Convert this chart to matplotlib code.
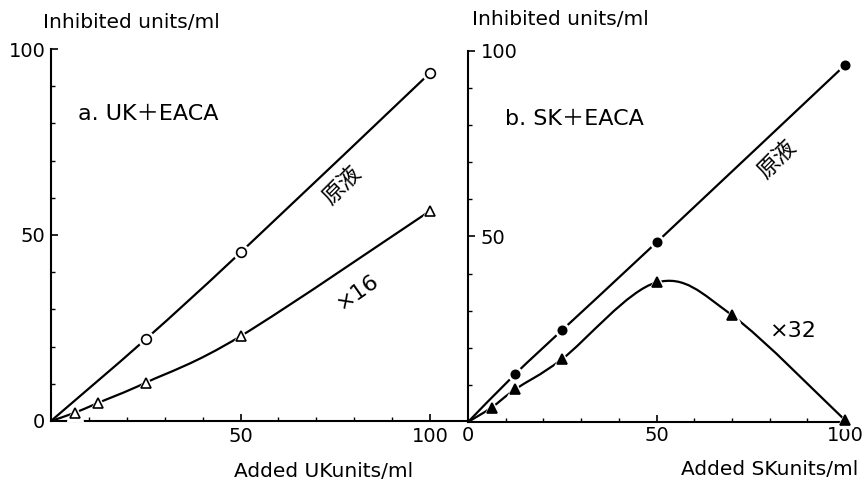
import numpy as np
import matplotlib.pyplot as plt
from matplotlib.path import Path
from matplotlib.patches import PathPatch
from matplotlib.ticker import FixedLocator

plt.rcParams['font.family'] = ['DejaVu Sans', 'Noto Sans CJK JP']

# panel a: UK + EACA (curves start at the origin)
uk_x = [0, 25, 50, 100]
uk_raw = [0, 22, 45.3, 93.6]          # 原液, open circles
uk16_x = [0, 6.25, 12.5, 25, 50, 100]
uk16 = [0, 2.2, 4.9, 10.3, 22.8, 56.5]  # x16, open triangles

# panel b: SK + EACA
sk_x = [0, 12.5, 25, 50, 100]
sk_raw = [0, 12.9, 24.8, 48.4, 96.2]     # 原液, filled circles
sk32_x = [0, 6.25, 12.5, 25, 50, 70, 100]
sk32 = [0, 3.9, 8.8, 17.0, 37.6, 28.8, 0.5]  # x32, filled triangles


def smooth_curve(ax, xs, ys):
    # Catmull-Rom through the points, drawn as cubic Bezier segments
    p = np.column_stack([xs, ys]).astype(float)
    verts = [p[0]]
    codes = [Path.MOVETO]
    n = len(p)
    for i in range(n - 1):
        p0 = p[i - 1] if i > 0 else p[i]
        p1, p2 = p[i], p[i + 1]
        p3 = p[i + 2] if i + 2 < n else p[i + 1]
        c1 = p1 + (p2 - p0) / 6
        c2 = p2 - (p3 - p1) / 6
        verts += [c1, c2, p2]
        codes += [Path.CURVE4] * 3
    ax.add_patch(PathPatch(Path(verts, codes), fill=False, lw=1.6,
                           ec='black', zorder=2))


def markers(ax, xs, ys, marker, filled, ms):
    ax.plot(xs[1:], ys[1:], ls='none', marker=marker, ms=ms + 4,
            mfc='white', mec='white', zorder=3)
    ax.plot(xs[1:], ys[1:], ls='none', marker=marker, ms=ms,
            mfc='black' if filled else 'white', mec='black', mew=1.2,
            zorder=4)


fig = plt.figure(figsize=(8.64, 4.82), dpi=100)
ax1 = fig.add_axes([0.0590, 0.1266, 0.4827, 0.7717])
ax2 = fig.add_axes([0.5417, 0.1245, 0.4363, 0.7697])

for ax in (ax1, ax2):
    ax.spines['top'].set_visible(False)
    ax.spines['right'].set_visible(False)
    ax.spines['left'].set_linewidth(1.5)
    ax.spines['bottom'].set_linewidth(1.5)
    ax.set_ylim(0, 100)
    ax.set_facecolor('none')
    ax.tick_params(which='major', direction='in', length=5, width=1.2,
                   labelsize=14)
    ax.tick_params(which='minor', direction='in', length=3, width=1.0)
    ax.xaxis.set_minor_locator(FixedLocator(range(10, 101, 10)))
    ax.yaxis.set_minor_locator(FixedLocator(range(10, 101, 10)))

# panel a
ax1.set_xlim(0, 110)
ax1.set_xticks([50, 100])
ax1.set_yticks([0, 50, 100])
ax1.tick_params(axis='x', pad=4)
ax1.tick_params(axis='y', pad=4)
smooth_curve(ax1, uk_x, uk_raw)
smooth_curve(ax1, uk16_x, uk16)
markers(ax1, uk_x, uk_raw, 'o', False, 7)
markers(ax1, uk16_x, uk16, '^', False, 7)
ax1.text(7, 82.5, 'a. UK＋EACA', fontsize=16, va='center')
ax1.text(76.8, 63.2, '原液', fontsize=16, rotation=45, ha='center',
         va='center', rotation_mode='anchor')
ax1.text(81, 34.7, '×16', fontsize=16, rotation=35, ha='center',
         va='center', rotation_mode='anchor')
ax1.text(-0.019, 1.057, 'Inhibited units/ml', transform=ax1.transAxes,
         fontsize=14.5, va='baseline')
ax1.text(0.653, -0.15, 'Added UKunits/ml', transform=ax1.transAxes,
         fontsize=14.5, ha='center', va='baseline')

# panel b
ax2.set_xlim(0, 100)
ax2.set_xticks([0, 50, 100])
ax2.set_yticks([50, 100])
ax2.tick_params(axis='x', pad=3)
ax2.tick_params(axis='y', pad=-9)
for lab in ax2.get_yticklabels():
    lab.set_horizontalalignment('left')
smooth_curve(ax2, sk_x, sk_raw)
smooth_curve(ax2, sk32_x, sk32)
markers(ax2, sk_x, sk_raw, 'o', True, 6)
markers(ax2, sk32_x, sk32, '^', True, 7)
ax2.text(9.9, 81.8, 'b. SK＋EACA', fontsize=16, va='center')
ax2.text(81.9, 70.9, '原液', fontsize=16, rotation=45, ha='center',
         va='center', rotation_mode='anchor')
ax2.text(86.4, 24.5, '×32', fontsize=16, ha='center', va='center')
ax2.text(0.011, 1.070, 'Inhibited units/ml', transform=ax2.transAxes,
         fontsize=14.5, va='baseline')
ax2.text(0.80, -0.143, 'Added SKunits/ml', transform=ax2.transAxes,
         fontsize=14.5, ha='center', va='baseline')

for ax in (ax1, ax2):
    for m in ax.lines:
        m.set_clip_on(False)

fig.savefig('out.png', dpi=100, facecolor='white')
